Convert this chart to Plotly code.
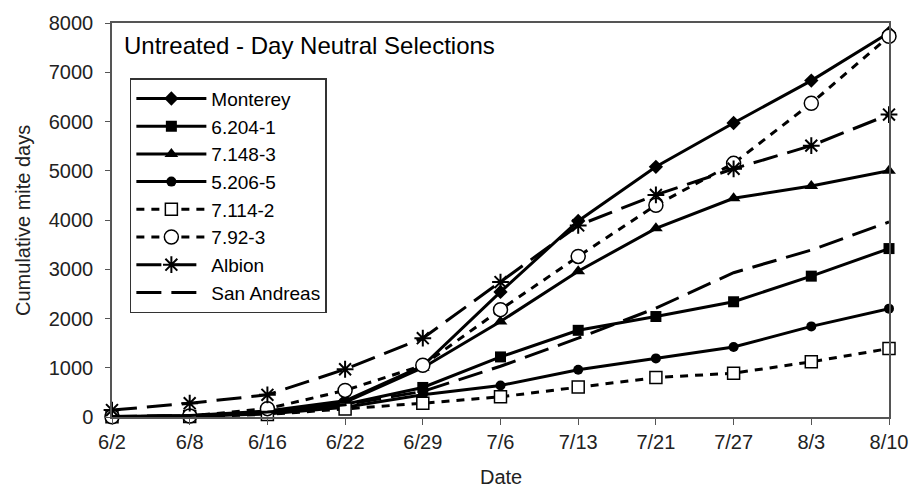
import plotly.graph_objects as go

dates = ['6/2', '6/8', '6/16', '6/22', '6/29', '7/6', '7/13', '7/21', '7/27', '8/3', '8/10']
monterey = [10, 30, 120, 330, 1040, 2540, 3980, 5080, 5970, 6830, 7800]
s6204_1 = [5, 20, 80, 260, 600, 1220, 1760, 2040, 2340, 2860, 3420]
s7148_3 = [5, 20, 100, 300, 1000, 1940, 2960, 3830, 4440, 4690, 5000]
s5206_5 = [5, 15, 60, 200, 450, 640, 960, 1190, 1420, 1840, 2200]
s7114_2 = [5, 10, 50, 160, 280, 410, 610, 800, 890, 1120, 1390]
s7_92_3 = [5, 20, 170, 540, 1050, 2180, 3260, 4300, 5150, 6370, 7730]
albion = [140, 280, 450, 970, 1600, 2740, 3890, 4510, 5040, 5510, 6140]
san_andreas = [10, 30, 100, 250, 520, 1030, 1600, 2210, 2930, 3390, 3960]
y_ticks = [0, 1000, 2000, 3000, 4000, 5000, 6000, 7000, 8000]

FONT = "Liberation Sans, Arial, sans-serif"
BLACK = "#000000"
SHORT = "8px,7px"
LONG = "25px,10px"

series = [
    ("Monterey", monterey, "solid", dict(symbol="diamond", size=11, color=BLACK)),
    ("6.204-1", s6204_1, "solid", dict(symbol="square", size=11, color=BLACK)),
    ("7.148-3", s7148_3, "solid", dict(symbol="triangle-up", size=12, color=BLACK)),
    ("5.206-5", s5206_5, "solid", dict(symbol="circle", size=10, color=BLACK)),
    ("7.114-2", s7114_2, SHORT, dict(symbol="square", size=12, color="white",
                                     line=dict(color=BLACK, width=1.5))),
    ("7.92-3", s7_92_3, SHORT, dict(symbol="circle", size=14, color="white",
                                    line=dict(color=BLACK, width=1.5))),
    ("Albion", albion, LONG, dict(symbol="asterisk-open", size=14,
                                  line=dict(color=BLACK, width=2))),
    ("San Andreas", san_andreas, LONG, None),
]

fig = go.Figure()
for name, vals, dash, marker in series:
    fig.add_trace(go.Scatter(
        x=dates, y=vals, name=name,
        mode="lines+markers" if marker else "lines",
        line=dict(color=BLACK, width=3, dash=dash),
        marker=marker,
        cliponaxis=False,
    ))

fig.update_layout(
    width=920, height=494,
    margin=dict(l=112, r=23, t=17, b=77),
    paper_bgcolor="white", plot_bgcolor="white",
    font=dict(family=FONT, size=20, color=BLACK),
    showlegend=True,
    legend=dict(
        x=0.023, y=0.86, xanchor="left", yanchor="top",
        bgcolor="white", bordercolor="#333333", borderwidth=1.5,
        font=dict(family=FONT, size=19, color=BLACK),
        itemwidth=70, tracegroupgap=0,
    ),
    xaxis=dict(
        type="category", range=[0, 10],
        showgrid=False, zeroline=False,
        showline=True, linecolor="#555555", linewidth=1.5, mirror=True,
        ticks="outside", ticklen=6, tickcolor="#555555",
        tickfont=dict(family=FONT, size=20, color="#222222"),
    ),
    yaxis=dict(
        range=[0, 8000], tickvals=y_ticks,
        showgrid=False, zeroline=False,
        showline=True, linecolor="#555555", linewidth=1.5, mirror=True,
        ticks="outside", ticklen=5, tickcolor="#555555",
        ticklabelstandoff=8,
        tickfont=dict(family=FONT, size=20, color="#222222"),
    ),
    annotations=[
        dict(text="Untreated - Day Neutral Selections", xref="paper", yref="paper",
             x=0.0127, y=0.9425, xanchor="left", yanchor="middle", showarrow=False,
             font=dict(family=FONT, size=24, color=BLACK)),
        dict(text="Cumulative mite days", xref="paper", yref="paper",
             x=-0.1146, y=0.5, xanchor="center", yanchor="middle", showarrow=False,
             textangle=-90, font=dict(family=FONT, size=20, color="#222222")),
        dict(text="Date", xref="paper", yref="paper",
             x=0.5, y=-0.1525, xanchor="center", yanchor="middle", showarrow=False,
             font=dict(family=FONT, size=20, color="#222222")),
    ],
)

fig.write_html("out.html")
